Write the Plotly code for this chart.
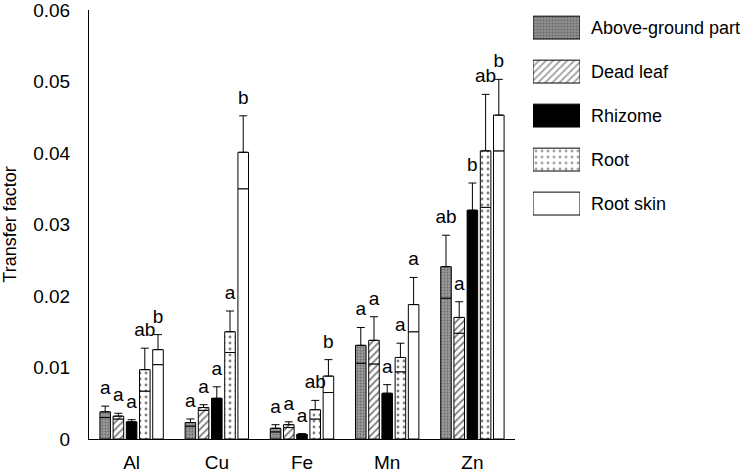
import plotly.graph_objects as go

elements = ["Al", "Cu", "Fe", "Mn", "Zn"]
series = ["Above-ground part", "Dead leaf", "Rhizome", "Root", "Root skin"]
y_ticks = [0, 0.01, 0.02, 0.03, 0.04, 0.05, 0.06]
y_tick_labels = ["0", "0.01", "0.02", "0.03", "0.04", "0.05", "0.06"]

above_ground = [0.0038, 0.0023, 0.0015, 0.0131, 0.0241]
dead_leaf = [0.0032, 0.0044, 0.0020, 0.0138, 0.0170]
rhizome = [0.0024, 0.0057, 0.00065, 0.0064, 0.0320]
root = [0.0097, 0.0150, 0.0041, 0.0114, 0.0403]
root_skin = [0.0125, 0.0401, 0.0088, 0.0188, 0.0453]

above_ground_err = [0.0008, 0.0005, 0.0005, 0.0025, 0.0044]
dead_leaf_err = [0.0004, 0.0004, 0.0004, 0.0033, 0.0022]
rhizome_err = [0.0003, 0.0016, 0.0001, 0.0012, 0.0038]
root_err = [0.0030, 0.0029, 0.0013, 0.0020, 0.0079]
root_skin_err = [0.0021, 0.0051, 0.0023, 0.0038, 0.0050]

above_ground_letters = ["a", "a", "a", "a", "ab"]
dead_leaf_letters = ["a", "a", "a", "a", "a"]
rhizome_letters = ["a", "a", "a", "a", "b"]
root_letters = ["ab", "a", "ab", "a", "ab"]
root_skin_letters = ["b", "b", "b", "a", "b"]

values = [above_ground, dead_leaf, rhizome, root, root_skin]
errors = [above_ground_err, dead_leaf_err, rhizome_err, root_err, root_skin_err]
letters = [above_ground_letters, dead_leaf_letters, rhizome_letters, root_letters, root_skin_letters]

styles = [
    dict(color="#8f8f8f", pattern=dict(shape=".", fgcolor="#3c3c3c", bgcolor="#9a9a9a", size=3, solidity=0.3)),
    dict(color="white", pattern=dict(shape="/", fgcolor="black", bgcolor="white", size=5, solidity=0.35)),
    dict(color="black", pattern=dict(shape="")),
    dict(color="white", pattern=dict(shape=".", fgcolor="black", bgcolor="white", size=6, solidity=0.18)),
    dict(color="white", pattern=dict(shape="")),
]

FONT = "Liberation Sans, Arial, sans-serif"
fig = go.Figure()

for i, name in enumerate(series):
    v = values[i]
    e = errors[i]
    low = [a - b for a, b in zip(v, e)]
    st = styles[i]
    # lower part of bar (0 .. value-err)
    fig.add_trace(go.Bar(
        x=elements, y=low, offsetgroup=str(i), name=name, showlegend=False,
        marker=dict(color=st["color"], pattern=st["pattern"], line=dict(color="black", width=1)),
        hoverinfo="skip",
    ))
    # upper part of bar (value-err .. value) with upper error whisker
    fig.add_trace(go.Bar(
        x=elements, y=e, base=low, offsetgroup=str(i), name=name, showlegend=False,
        marker=dict(color=st["color"], pattern=st["pattern"], line=dict(color="black", width=1)),
        error_y=dict(type="data", symmetric=False, array=e, arrayminus=[0] * len(e),
                     color="black", thickness=1, width=4),
    ))

for i, name in enumerate(series):
    tops = [a + b for a, b in zip(values[i], errors[i])]
    fig.add_trace(go.Scatter(
        x=elements, y=tops, mode="markers+text", text=letters[i], textposition="top center",
        marker=dict(size=10, color="rgba(0,0,0,0)"),
        textfont=dict(family=FONT, size=19, color="black"),
        offsetgroup=str(i), alignmentgroup="main", showlegend=False, hoverinfo="skip",
    ))

# legend drawn as a small bar subplot
fig.add_trace(go.Bar(
    x=[1] * len(series), y=series, orientation="h", width=0.52,
    xaxis="x2", yaxis="y2", showlegend=False, hoverinfo="skip",
    marker=dict(
        color=[s["color"] for s in styles],
        line=dict(color="black", width=1),
        pattern=dict(
            shape=[s["pattern"].get("shape", "") for s in styles],
            fgcolor=[s["pattern"].get("fgcolor", "black") for s in styles],
            bgcolor=[s["pattern"].get("bgcolor", s["color"]) for s in styles],
            size=[s["pattern"].get("size", 8) for s in styles],
            solidity=[s["pattern"].get("solidity", 0.3) for s in styles],
        ),
    ),
))

W, H = 750, 473
L, R, T, B = 89, 0, 10, 31
pw = W - L - R

fig.update_layout(
    width=W, height=H,
    margin=dict(l=L, r=R, t=T, b=B),
    paper_bgcolor="white", plot_bgcolor="white",
    barmode="group", bargap=0.225, bargroupgap=0.2,
    scattermode="group", scattergap=0.225,
    font=dict(family=FONT, size=19, color="black"),
    xaxis=dict(domain=[0, 426 / pw], showline=True, linecolor="black", linewidth=1,
               ticks="", showgrid=False, zeroline=False, range=[-0.5, 4.5],
               tickfont=dict(size=19), ticklabelstandoff=6),
    yaxis=dict(range=[0, 0.06], tickvals=y_ticks, ticktext=y_tick_labels,
               showline=True, linecolor="black", linewidth=1,
               ticks="", showgrid=False, zeroline=False, tickfont=dict(size=19),
               ticklabelstandoff=14, ticklabeloverflow="allow",
               title=dict(text="Transfer factor", font=dict(size=18), standoff=16)),
    xaxis2=dict(domain=[(533 - L) / pw, (580 - L) / pw], anchor="y2", range=[0, 1],
                visible=False, fixedrange=True),
    yaxis2=dict(domain=[(442 - 227) / 432, 1], anchor="x2", range=[4.498, -0.4],
                side="right", showline=False, ticks="", showgrid=False, zeroline=False,
                tickfont=dict(size=18), ticklabelstandoff=10, fixedrange=True),
)

fig.write_html("out.html", config={"displayModeBar": False},
               post_script="document.body.style.margin='0px';")
